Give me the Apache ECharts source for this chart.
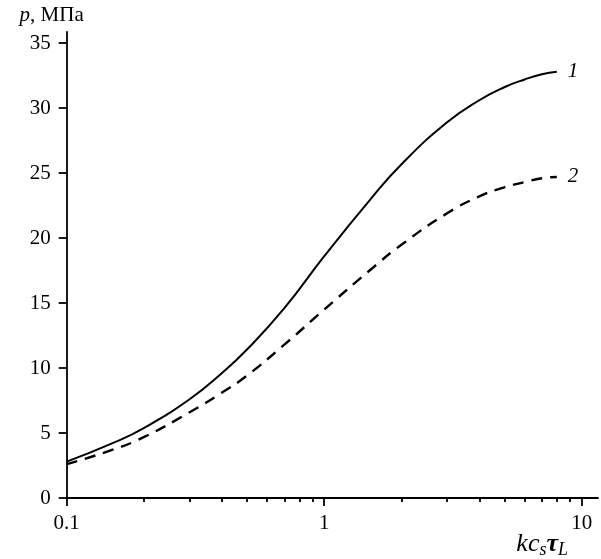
<!DOCTYPE html>
<html>
<head>
<meta charset="utf-8">
<script src="https://cdn.jsdelivr.net/npm/echarts@6/dist/echarts.min.js"></script>
<style>
  html, body { margin: 0; padding: 0; background: #fff; }
  #chart { width: 601px; height: 559px; }
</style>
</head>
<body>
<div id="chart"></div>
<script>
// kc_s*tau_L values (log axis)
const xs = [0.1, 0.15, 0.2, 0.3, 0.4, 0.5, 0.7, 1, 1.5, 2, 3, 4, 5, 6, 7, 8];
// curve 1 (solid), MPa
const p1 = [2.8, 4.2, 5.4, 7.6, 9.6, 11.4, 14.6, 18.6, 22.9, 25.7, 28.9, 30.6, 31.6, 32.2, 32.6, 32.8];
// curve 2 (dashed), MPa
const p2 = [2.6, 3.7, 4.7, 6.6, 8.1, 9.4, 11.8, 14.5, 17.5, 19.5, 21.9, 23.2, 23.9, 24.3, 24.6, 24.7];

const xMajor = [0.1, 1, 10];
const xMajorLabels = ['0.1', '1', '10'];
const xMinor = [0.2, 0.3, 0.4, 0.5, 0.6, 0.7, 0.8, 0.9, 2, 3, 4, 5, 6, 7, 8, 9];
const yTicks = [0, 5, 10, 15, 20, 25, 30, 35];

const FONT = 'Liberation Serif';
const black = '#000';

const initChart = (id) => {
  const myChart = echarts.init(document.getElementById(id));
  window.addEventListener('resize', () => {
    myChart.resize();
  });
  return myChart;
};

const toPairs = (ys) => xs.map((x, i) => [x, ys[i]]);

const curveLabel = (text) => ({
  show: true,
  formatter: text,
  fontFamily: FONT,
  fontStyle: 'italic',
  fontSize: 21,
  color: black,
  distance: 11,
});

const option = {
  animation: false,
  backgroundColor: '#fff',
  grid: {
    left: 66.7,
    right: 3,
    top: 32,
    bottom: 61,
    containLabel: false,
    outerBoundsMode: 'none',
  },
  xAxis: [{
    type: 'log',
    logBase: 10,
    min: 0.1,
    max: 11.56,
    axisLine: { lineStyle: { color: black, width: 1.8 } },
    axisTick: {
      customValues: xMajor,
      length: 8,
      lineStyle: { color: black, width: 1.8 },
    },
    axisLabel: {
      customValues: xMajor,
      formatter: (v) => {
        const idx = xMajor.findIndex((m) => Math.abs(m - v) < 1e-6 * m);
        return idx >= 0 ? xMajorLabels[idx] : '';
      },
      margin: 15,
      fontFamily: FONT,
      fontSize: 21,
      color: black,
    },
    splitLine: { show: false },
    name: '{i|kc}{sub|s}{t|τ}{sub|L}',
    nameLocation: 'end',
    nameGap: -30,
    nameMoveOverlap: false,
    nameTextStyle: {
      align: 'right',
      verticalAlign: 'top',
      padding: [33, 0, 0, 0],
      rich: {
        i: { fontFamily: FONT, fontStyle: 'italic', fontSize: 26, color: black, lineHeight: 28, verticalAlign: 'top' },
        t: { fontFamily: FONT, fontStyle: 'italic', fontWeight: 'bold', fontSize: 26, color: black, lineHeight: 28, verticalAlign: 'top' },
        sub: { fontFamily: FONT, fontStyle: 'italic', fontSize: 18, color: black, lineHeight: 28, verticalAlign: 'bottom' },
      },
    },
  }, {
    type: 'log',
    logBase: 10,
    min: 0.1,
    max: 11.56,
    position: 'bottom',
    axisLine: { show: false },
    axisTick: {
      customValues: xMinor,
      length: 4,
      lineStyle: { color: black, width: 1.8 },
    },
    axisLabel: { show: false },
    splitLine: { show: false },
  }],
  yAxis: {
    type: 'value',
    min: 0,
    max: 35.85,
    axisLine: { show: true, lineStyle: { color: black, width: 1.8 } },
    axisTick: {
      show: true,
      customValues: yTicks,
      length: 8,
      lineStyle: { color: black, width: 1.8 },
    },
    axisLabel: {
      customValues: yTicks,
      margin: 16,
      fontFamily: FONT,
      fontSize: 21,
      color: black,
    },
    splitLine: { show: false },
    name: '{i|p}, МПа',
    nameLocation: 'end',
    nameGap: 6,
    nameMoveOverlap: false,
    nameTextStyle: {
      fontFamily: FONT,
      fontSize: 21,
      color: black,
      align: 'center',
      verticalAlign: 'bottom',
      padding: [0, 30, 0, 0],
      rich: {
        i: { fontFamily: FONT, fontStyle: 'italic', fontSize: 21, color: black },
      },
    },
  },
  series: [{
    name: '1',
    type: 'line',
    xAxisIndex: 0,
    smooth: true,
    showSymbol: false,
    data: toPairs(p1),
    lineStyle: { color: black, width: 2 },
    itemStyle: { color: black },
    endLabel: curveLabel('1'),
  }, {
    name: '2',
    type: 'line',
    xAxisIndex: 0,
    smooth: true,
    showSymbol: false,
    data: toPairs(p2),
    lineStyle: { color: black, width: 2.4, type: [11, 8] },
    itemStyle: { color: black },
    endLabel: curveLabel('2'),
  }],
};

const chart = initChart('chart');
chart.setOption(option);
</script>
</body>
</html>
